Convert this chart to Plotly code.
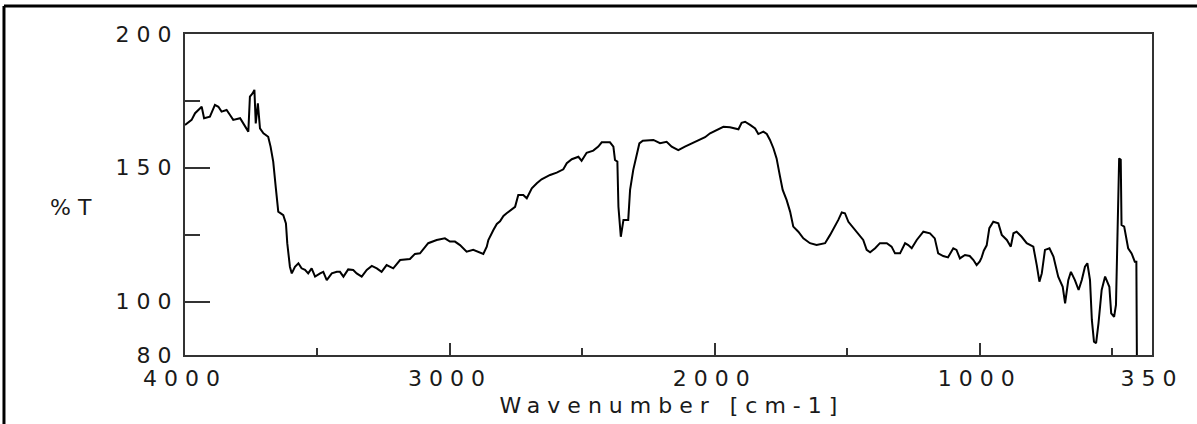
import plotly.graph_objects as go

# ---- data ----
wavenumber = [
    4000, 3991, 3975, 3962, 3946, 3937, 3928, 3906, 3887, 3874, 3862, 3843, 3830, 3818, 3792,
    3774, 3761, 3755, 3745, 3738, 3733, 3725, 3717, 3704, 3686, 3677, 3667, 3657, 3648, 3629,
    3619, 3614, 3604, 3597, 3585, 3572, 3560, 3547, 3535, 3522, 3509, 3490, 3478, 3465, 3446,
    3427, 3415, 3402, 3384, 3365, 3352, 3333, 3314, 3295, 3276, 3258, 3239, 3214, 3188, 3151,
    3132, 3113, 3094, 3082, 3050, 3019, 3000, 2981, 2962, 2937, 2912, 2893, 2874, 2861, 2855,
    2836, 2823, 2811, 2798, 2786, 2754, 2742, 2723, 2710, 2691, 2672, 2654, 2622, 2597, 2572,
    2559, 2540, 2515, 2503, 2484, 2459, 2440, 2427, 2396, 2383, 2377, 2368, 2364, 2355, 2345,
    2327, 2320, 2308, 2298, 2285, 2272, 2232, 2207, 2182, 2163, 2138, 2113, 2087, 2062, 2037,
    2018, 1993, 1968, 1943, 1911, 1899, 1886, 1867, 1848, 1836, 1817, 1804, 1792, 1779, 1767,
    1754, 1744, 1729, 1716, 1704, 1685, 1666, 1641, 1616, 1597, 1584, 1565, 1547, 1534, 1521,
    1509, 1496, 1477, 1458, 1440, 1427, 1414, 1395, 1377, 1351, 1333, 1320, 1301, 1282, 1270,
    1257, 1238, 1213, 1188, 1170, 1157, 1138, 1120, 1100, 1088, 1075, 1056, 1038, 1024, 1012,
    1000, 993, 985, 974, 964, 949, 930, 917, 898, 883, 873, 861, 842, 823, 798,
    785, 775, 766, 754, 737, 722, 704, 687, 678, 666, 656, 641, 627, 615, 603,
    594, 584, 577, 569, 561, 552, 540, 527, 518, 511, 504, 493, 486, 481, 474,
    468, 465, 455, 440, 427, 415, 409, 407,
]
transmittance = [
    166.0, 166.6, 167.9, 170.4, 172.2, 172.8, 168.5, 169.1, 173.5, 172.8, 171.0, 171.6, 169.7, 167.9, 168.5,
    165.3, 163.5, 176.6, 177.8, 179.1, 166.6, 174.1, 164.7, 162.9, 161.6, 157.9, 152.3, 142.3, 133.6, 132.3,
    129.2, 121.8, 113.0, 110.5, 113.0, 114.3, 112.4, 111.8, 110.5, 112.4, 109.3, 110.5, 111.1, 108.0, 110.5,
    111.1, 111.1, 109.3, 112.0, 111.8, 110.5, 109.3, 111.8, 113.3, 112.4, 111.1, 113.6, 112.4, 115.5, 115.9,
    117.8, 118.0, 120.5, 121.8, 123.0, 123.6, 122.4, 122.4, 121.1, 118.6, 119.3, 118.6, 117.8, 120.5, 123.0,
    126.7, 129.0, 130.0, 132.0, 133.0, 135.4, 139.8, 139.8, 138.6, 142.3, 144.2, 145.7, 147.3, 148.2, 149.4,
    151.7, 153.2, 154.1, 152.6, 155.6, 156.4, 157.9, 159.5, 159.5, 157.9, 152.9, 152.3, 135.4, 124.2, 130.5,
    130.5, 141.7, 149.2, 154.1, 159.1, 160.1, 160.4, 159.2, 159.7, 157.9, 156.6, 157.9, 159.1, 160.0, 161.4,
    162.9, 164.1, 165.3, 165.1, 164.4, 166.8, 167.2, 166.0, 164.7, 162.6, 163.5, 162.6, 160.4, 157.3, 153.5,
    146.7, 141.7, 137.9, 133.6, 128.0, 126.1, 123.6, 121.8, 121.1, 121.4, 121.8, 124.9, 128.0, 130.5, 133.3,
    133.0, 129.8, 127.4, 124.9, 123.0, 119.3, 118.4, 119.9, 121.8, 121.8, 120.5, 118.0, 118.0, 121.8, 121.1,
    119.9, 123.0, 126.1, 125.5, 123.6, 118.0, 117.0, 116.5, 119.9, 119.3, 116.1, 117.4, 117.0, 115.5, 113.6,
    115.0, 116.5, 119.0, 121.0, 127.4, 129.8, 129.2, 124.9, 123.0, 120.5, 125.5, 126.1, 124.2, 121.8, 120.5,
    113.6, 107.4, 110.5, 119.3, 119.9, 116.8, 109.3, 105.5, 99.3, 108.0, 111.1, 108.0, 104.3, 108.0, 113.0,
    114.3, 108.0, 93.1, 85.0, 84.4, 91.8, 104.3, 109.3, 106.8, 105.5, 95.6, 94.3, 98.7, 126.1, 153.5,
    153.0, 128.6, 128.0, 119.9, 118.0, 114.9, 114.9, 78.0,
]

x_tick_values = [4000, 3000, 2000, 1000, 350]
x_tick_labels = ["4000", "3000", "2000", "1000", "350"]
x_minor_values = [3500, 2500, 1500, 500]
y_tick_values = [200, 150, 100, 80]
y_tick_labels = ["200", "150", "100", "80"]
y_minor_values = [175, 125]

FONT = "DejaVu Sans"
FSIZE = 22
TXT = "#1a1a1a"
AX = "#333333"

fig = go.Figure()
fig.add_trace(go.Scatter(
    x=wavenumber, y=transmittance, mode="lines",
    line=dict(color="black", width=2), showlegend=False, hoverinfo="skip",
))

fig.update_layout(
    width=1197, height=424,
    margin=dict(l=185, r=45, t=34, b=69),
    paper_bgcolor="white", plot_bgcolor="white",
    font=dict(family=FONT, size=FSIZE, color=TXT),
    showlegend=False,
)
fig.update_xaxes(
    range=[4000, 350], showgrid=False, zeroline=False,
    showline=True, linecolor=AX, linewidth=2, mirror=True,
    tickmode="array", tickvals=x_tick_values, ticktext=x_tick_labels,
    ticks="inside", ticklen=12, tickwidth=2, tickcolor=AX,
    ticklabelstandoff=3,
    minor=dict(tickmode="array", tickvals=x_minor_values, ticks="inside",
               ticklen=7, tickwidth=2, tickcolor=AX, showgrid=False),
    tickfont=dict(family=FONT, size=FSIZE, color=TXT),
)
fig.update_yaxes(
    range=[80, 200], showgrid=False, zeroline=False,
    showline=True, linecolor=AX, linewidth=2, mirror=True,
    tickmode="array", tickvals=y_tick_values, ticktext=y_tick_labels,
    ticks="inside", ticklen=25, tickwidth=2, tickcolor=AX,
    ticklabelstandoff=0,
    minor=dict(tickmode="array", tickvals=y_minor_values, ticks="inside",
               ticklen=15, tickwidth=2, tickcolor=AX, showgrid=False),
    tickfont=dict(family=FONT, size=FSIZE, color=TXT),
)

fig.add_annotation(text="%T", xref="paper", yref="paper", x=-0.114, y=0.458,
                   showarrow=False, xanchor="center", yanchor="middle",
                   font=dict(family=FONT, size=FSIZE, color=TXT))
fig.add_annotation(text="Wavenumber [cm-1]", xref="paper", yref="paper", x=0.504, y=-0.156,
                   showarrow=False, xanchor="center", yanchor="middle",
                   font=dict(family=FONT, size=FSIZE, color=TXT))

# outer frame (left and top edges only, as in the reference)
fig.add_shape(type="line", xref="paper", yref="paper",
              x0=-0.1872, y0=1.0872, x1=1.06, y1=1.0872, line=dict(color="black", width=3))
fig.add_shape(type="line", xref="paper", yref="paper",
              x0=-0.1872, y0=1.0872, x1=-0.1872, y1=-0.22, line=dict(color="black", width=3))

# the reference lettering is set wide; widen the tracking of the (real) text
post = """
var gd = document.getElementById('{plot_id}');
function widen(){
  gd.querySelectorAll('text').forEach(function(t){ t.style.letterSpacing = '7px'; });
}
widen();
if (gd.on) { gd.on('plotly_afterplot', widen); }
"""

fig.write_html("out.html", post_script=post)
